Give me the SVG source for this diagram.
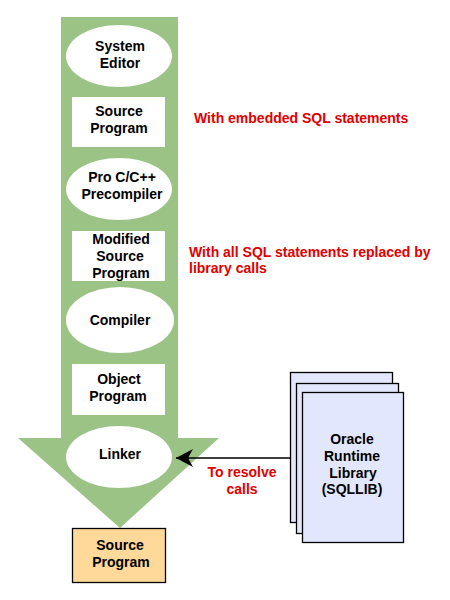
<svg xmlns="http://www.w3.org/2000/svg" width="450" height="600" viewBox="0 0 450 600">
<defs>
<style>
.t{font-family:"Liberation Sans",Arial,sans-serif;font-weight:bold;font-size:14px;fill:#000;text-anchor:middle}
.r{font-family:"Liberation Sans",Arial,sans-serif;font-weight:bold;font-size:14px;fill:#E00000}
.el{fill:#fff;stroke:none}
.bx{fill:#fff;stroke:none}
.lib{fill:#E2E7FD;stroke:#000;stroke-width:1.3}
</style>
<marker id="ah" markerWidth="20" markerHeight="20" refX="17" refY="9" orient="auto" markerUnits="userSpaceOnUse">
<path d="M0,0 L17,9 L0,18 L5,9 Z" fill="#000"/>
</marker>
</defs>
<rect width="450" height="600" fill="#fff"/>
<g id="flow-arrow">
<polygon points="61,17 178,17 178,438 219,438 120,528 18,438 61,438" fill="#9CC386"/>
</g>
<g id="system-editor">
<ellipse class="el" cx="119" cy="56" rx="53" ry="31"/>
<text class="t" x="120" y="51">System</text>
<text class="t" x="120" y="68">Editor</text>
</g>
<g id="source-program-1">
<rect class="bx" x="72" y="97" width="93" height="50"/>
<text class="t" x="119" y="116">Source</text>
<text class="t" x="119" y="133">Program</text>
</g>
<g id="precompiler">
<ellipse class="el" cx="119" cy="189" rx="53" ry="31"/>
<text class="t" x="122" y="182">Pro C/C++</text>
<text class="t" x="122" y="199">Precompiler</text>
</g>
<g id="modified-source">
<rect class="bx" x="72" y="231" width="93" height="50"/>
<text class="t" x="121" y="244">Modified</text>
<text class="t" x="120" y="261">Source</text>
<text class="t" x="121" y="278">Program</text>
</g>
<g id="compiler">
<ellipse class="el" cx="120" cy="320" rx="54" ry="33"/>
<text class="t" x="120" y="325">Compiler</text>
</g>
<g id="object-program">
<rect class="bx" x="72" y="364" width="93" height="51"/>
<text class="t" x="119" y="384">Object</text>
<text class="t" x="118" y="401">Program</text>
</g>
<g id="linker">
<ellipse class="el" cx="119" cy="457" rx="53" ry="31"/>
<text class="t" x="120" y="459">Linker</text>
</g>
<g id="source-program-out">
<rect x="72.5" y="528.5" width="93" height="54" fill="#FFD999" stroke="#000" stroke-width="1.3"/>
<text class="t" x="120" y="550">Source</text>
<text class="t" x="121" y="567">Program</text>
</g>
<g id="oracle-runtime-library">
<rect class="lib" x="290.5" y="372.5" width="102" height="150"/>
<rect class="lib" x="296.5" y="383.5" width="102" height="150"/>
<rect class="lib" x="302.5" y="392.5" width="101" height="150"/>
<text class="t" x="352" y="444">Oracle</text>
<text class="t" x="352" y="461">Runtime</text>
<text class="t" x="353" y="478">Library</text>
<text class="t" x="352" y="494">(SQLLIB)</text>
</g>
<g id="connectors">
<line x1="290" y1="458" x2="176" y2="458" stroke="#000" stroke-width="1.5" marker-end="url(#ah)"/>
</g>
<g id="labels">
<text class="r" x="194" y="123">With embedded SQL statements</text>
<text class="r" x="189" y="257">With all SQL statements replaced by</text>
<text class="r" x="189" y="273">library calls</text>
<text class="r" x="242" y="477" text-anchor="middle">To resolve</text>
<text class="r" x="242" y="494" text-anchor="middle">calls</text>
</g>
</svg>
